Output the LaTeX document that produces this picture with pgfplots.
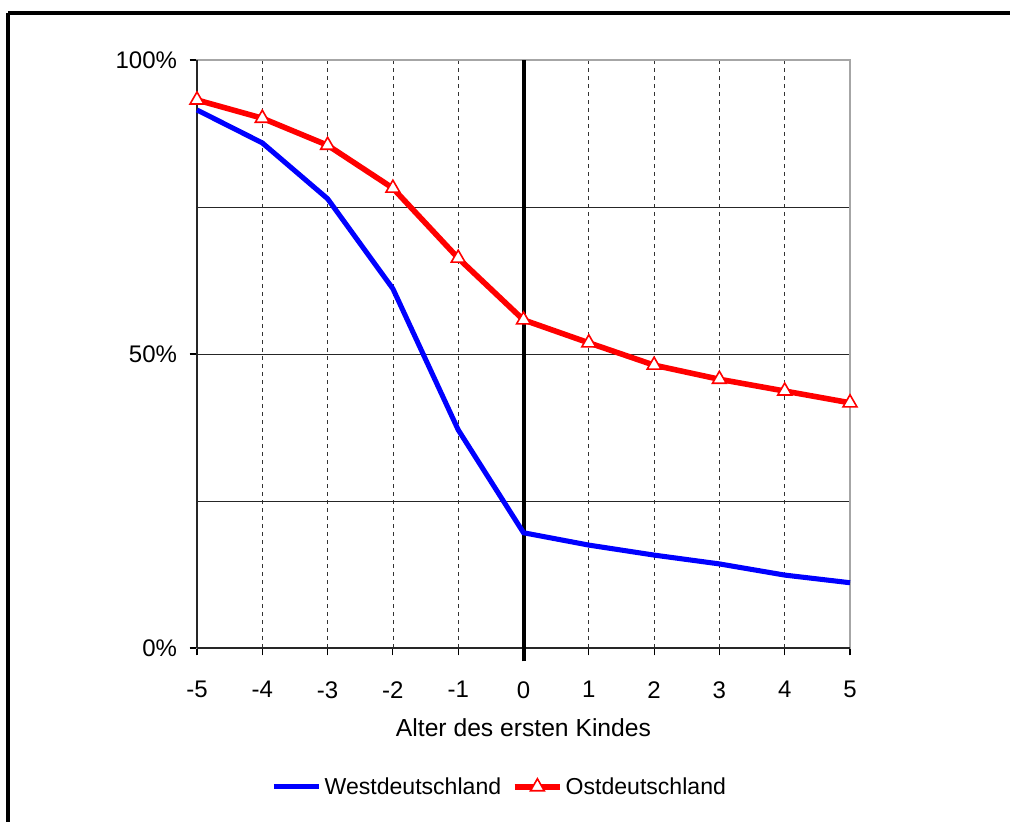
\documentclass[border=0pt]{standalone}
\usepackage{pgfplots}
\pgfplotsset{compat=1.18}
\usepackage{fontspec}
\setmainfont{Liberation Sans}
\begin{document}
\begin{tikzpicture}[x=0.75pt,y=0.75pt]
\useasboundingbox (0,0) rectangle (1010,821);
\begin{scope}
\clip (0,0) rectangle (1010,821);
\draw[line width=2.3pt] (8,808) -- (1030,808);
\draw[line width=2.3pt] (8,808) -- (8,-20);
\end{scope}
\begin{axis}[
  at={(147.75pt,129.75pt)}, anchor=south west,
  width=489.75pt, height=441pt, scale only axis,
  xmin=-5, xmax=5, ymin=0, ymax=100,
  xtick={-5,-4,...,5}, ytick={0,50,100},
  yticklabels={0\%,50\%,100\%},
  minor ytick={25,75},
  xmajorgrids, ymajorgrids, yminorgrids,
  x grid style={black!80, dashed, line width=0.6pt},
  y grid style={black!85, line width=0.6pt},
  minor y grid style={black!85, line width=0.6pt},
  minor tick length=0pt,
  major tick length=5.5pt,
  tick align=outside,
  xtick pos=left, ytick pos=left,
  tick style={black, line width=0.8pt},
  axis line style={gray!70, line width=0.9pt},
  /pgf/number format/assume math mode=true,
  ticklabel style={font=\fontsize{18}{21}\selectfont},
  xticklabel style={yshift=-16pt},
  yticklabel style={xshift=-6pt},
  xlabel={Alter des ersten Kindes},
  xlabel style={font=\fontsize{18.5}{22}\selectfont, yshift=-8pt},
  legend columns=2,
  legend style={at={(0.464,-0.236)}, anchor=center, draw=none,
    font=\fontsize{17.3}{20}\selectfont,
    /tikz/every even column/.append style={column sep=6pt}},
  legend cell align=left,
  legend image code/.code={\draw[mark repeat=2,mark phase=2] plot coordinates {(0cm,0cm) (0.6cm,0cm) (1.2cm,0cm)};},
  clip=false,
]
\draw[black!85, line width=0.9pt] (axis cs:-5,0) -- (axis cs:5,0);
\draw[black!85, line width=0.9pt] (axis cs:-5,0) -- (axis cs:-5,100);
\draw[black, line width=3pt] ([yshift=-10pt]axis cs:0,0) -- (axis cs:0,100);
\addplot[blue, line width=3.8pt, no marks] coordinates {
(-5,91.5) (-4,85.9) (-3,76.4) (-2,61.1) (-1,37.1) (0,19.6) (1,17.5) (2,15.8) (3,14.3) (4,12.4) (5,11.1)};
\addlegendentry{Westdeutschland}
\addplot[red, line width=4.2pt, mark=triangle*, mark size=6pt,
  mark options={fill=white, draw=red, line width=1.2pt, solid}] coordinates {
(-5,93.2) (-4,90.1) (-3,85.5) (-2,78.2) (-1,66.3) (0,55.8) (1,51.9) (2,48.1) (3,45.7) (4,43.7) (5,41.7)};
\addlegendentry{Ostdeutschland}
\end{axis}
\end{tikzpicture}
\end{document}
